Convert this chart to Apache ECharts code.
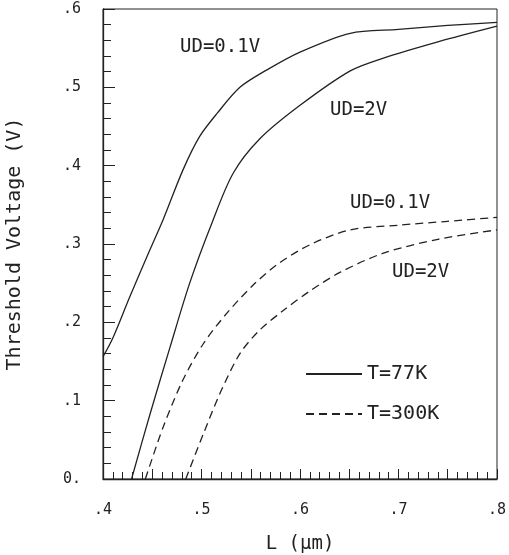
<!DOCTYPE html>
<html>
<head>
<meta charset="utf-8">
<script src="https://cdn.jsdelivr.net/npm/echarts@6/dist/echarts.min.js"></script>
<style>
  html, body { margin: 0; padding: 0; background: #fff; }
  #chart { width: 509px; height: 555px; }
</style>
</head>
<body>
<div id="chart"></div>
<script>
// L (um) vs threshold voltage
var solidLow = [[0.400, 0.156], [0.410, 0.180], [0.427, 0.232], [0.445, 0.285], [0.461, 0.331],
  [0.481, 0.394], [0.498, 0.437], [0.516, 0.467], [0.539, 0.500], [0.566, 0.522],
  [0.600, 0.545], [0.651, 0.569], [0.700, 0.574], [0.750, 0.579], [0.800, 0.583]];
var solidHigh = [[0.429, 0.000], [0.448, 0.084], [0.468, 0.168], [0.488, 0.250], [0.510, 0.325],
  [0.532, 0.390], [0.559, 0.434], [0.600, 0.477], [0.651, 0.521], [0.684, 0.537],
  [0.740, 0.558], [0.800, 0.578]];
var dashLow = [[0.443, 0.000], [0.461, 0.066], [0.481, 0.126], [0.502, 0.173], [0.526, 0.212],
  [0.552, 0.247], [0.577, 0.274], [0.610, 0.299], [0.651, 0.318], [0.700, 0.324],
  [0.750, 0.329], [0.800, 0.334]];
var dashHigh = [[0.484, 0.000], [0.502, 0.058], [0.519, 0.110], [0.539, 0.160], [0.559, 0.190],
  [0.583, 0.215], [0.610, 0.240], [0.641, 0.264], [0.684, 0.288], [0.740, 0.306],
  [0.800, 0.318]];

var seriesNames = ['T=77K', 'T=300K'];
var xTicks = [0.4, 0.5, 0.6, 0.7, 0.8];
var yTicks = [0, 0.1, 0.2, 0.3, 0.4, 0.5, 0.6];

var ink = '#222';
var mono = 'DejaVu Sans Mono';

function lineSeries (name, data, dashed) {
  return {
    name: name,
    type: 'line',
    data: data,
    symbol: 'none',
    smooth: 0.3,
    lineStyle: { color: ink, width: 1.3, type: dashed ? [8, 5] : 'solid' },
    itemStyle: { color: ink }
  };
}

function annot (text, left, top) {
  return {
    type: 'text', left: left, top: top,
    style: { text: text, font: '19px ' + mono, fill: ink }
  };
}

var myChart = echarts.init(document.getElementById('chart'));

var option = {
  animation: false,
  backgroundColor: '#fff',
  grid: {
    left: 103, right: 12, top: 9, bottom: 76,
    outerBoundsMode: 'none',
    show: true, borderColor: ink, borderWidth: 1
  },
  legend: {
    data: seriesNames,
    orient: 'vertical',
    left: 300,
    top: 359,
    itemWidth: 56,
    itemHeight: 12,
    itemGap: 20,
    itemStyle: { opacity: 0 },
    textStyle: { fontFamily: mono, fontSize: 20, color: ink }
  },
  xAxis: {
    type: 'value',
    min: xTicks[0],
    max: xTicks[xTicks.length - 1],
    interval: 0.05,
    name: 'L (µm)',
    nameLocation: 'middle',
    nameGap: 56,
    nameTextStyle: { fontFamily: mono, fontSize: 19, color: ink },
    axisLine: { lineStyle: { color: ink, width: 1.3 } },
    axisTick: { inside: true, length: 10, lineStyle: { color: ink } },
    minorTick: { show: true, splitNumber: 5, length: 7, lineStyle: { color: ink } },
    splitLine: { show: false },
    axisLabel: {
      margin: 24, fontFamily: mono, fontSize: 15, color: ink,
      formatter: function (v) {
        var r = Math.round(v * 100);
        if (r % 10 !== 0) return '';
        return xTicks.indexOf(r / 100) > -1 ? '.' + (r / 10) % 10 : '';
      }
    }
  },
  yAxis: {
    type: 'value',
    min: yTicks[0],
    max: yTicks[yTicks.length - 1],
    interval: 0.1,
    name: 'Threshold Voltage (V)',
    nameLocation: 'middle',
    nameGap: 78,
    nameTextStyle: { fontFamily: mono, fontSize: 20, color: ink },
    axisLine: { show: true, lineStyle: { color: ink, width: 1.3 } },
    axisTick: { inside: true, length: 12, lineStyle: { color: ink } },
    minorTick: { show: true, splitNumber: 5, length: 8, lineStyle: { color: ink } },
    splitLine: { show: false },
    axisLabel: {
      margin: 22, fontFamily: mono, fontSize: 15, color: ink,
      formatter: function (v) {
        var r = Math.round(v * 10);
        return r === 0 ? '0.' : '.' + r;
      }
    }
  },
  graphic: [
    annot('UD=0.1V', 180, 38),
    annot('UD=2V', 330, 101),
    annot('UD=0.1V', 350, 194),
    annot('UD=2V', 392, 263)
  ],
  series: [
    lineSeries(seriesNames[0], solidLow, false),
    lineSeries(seriesNames[0], solidHigh, false),
    lineSeries(seriesNames[1], dashLow, true),
    lineSeries(seriesNames[1], dashHigh, true)
  ]
};

myChart.setOption(option);
</script>
</body>
</html>
